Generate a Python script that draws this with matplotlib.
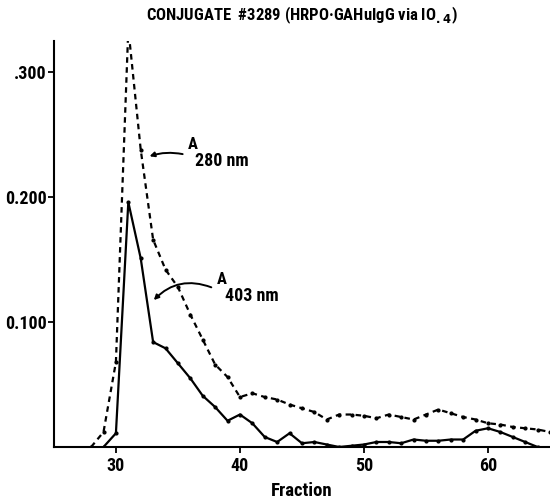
import matplotlib
matplotlib.use("Agg")
import matplotlib.pyplot as plt

plt.rcParams["font.family"] = ["Roboto Condensed", "Roboto", "DejaVu Sans"]
plt.rcParams["font.weight"] = "bold"

# absorbance at 280 nm (dashed)
frac_280 = [28, 29, 30, 31, 32, 33, 34, 35, 36, 37, 38, 39, 40, 41, 42, 43, 44,
            45, 46, 47, 48, 49, 50, 51, 52, 53, 54, 55, 56, 57, 58, 59, 60,
            61, 62, 63, 64, 65]
a280 = [0.0, 0.012, 0.068, 0.335, 0.238, 0.166, 0.142, 0.128, 0.106, 0.086, 0.066,
        0.056, 0.040, 0.043, 0.040, 0.038, 0.034, 0.031, 0.028, 0.022, 0.026,
        0.026, 0.025, 0.023, 0.026, 0.024, 0.022, 0.026, 0.030, 0.027, 0.024,
        0.022, 0.019, 0.018, 0.016, 0.015, 0.014, 0.012]

# absorbance at 403 nm (solid)
frac_403 = [29, 30, 31, 32, 33, 34, 35, 36, 37, 38, 39, 40, 41, 42, 43, 44, 45,
            46, 47, 48, 49, 50, 51, 52, 53, 54, 55, 56, 57, 58, 59, 60, 61,
            62, 63, 64]
a403 = [0.0, 0.011, 0.196, 0.151, 0.084, 0.079, 0.067, 0.055, 0.041, 0.032,
        0.021, 0.026, 0.019, 0.008, 0.004, 0.011, 0.003, 0.004, 0.002, 0.0,
        0.001, 0.002, 0.004, 0.004, 0.003, 0.006, 0.005, 0.005, 0.006, 0.006,
        0.013, 0.015, 0.012, 0.008, 0.004, 0.0]

ytick_vals = [0.1, 0.2, 0.3]
ytick_labels = ["0.100", "0.200", ".300"]
xtick_vals = [30, 40, 50, 60]

fig = plt.figure(figsize=(5.5, 5.0), dpi=100)
ax = fig.add_axes([0.098, 0.106, 0.902, 0.812])

ax.plot(frac_280, a280, color="black", linestyle=(0, (2.5, 2)), linewidth=1.6,
        marker="o", markersize=2)
ax.plot(frac_403, a403, color="black", linestyle="-", linewidth=1.6,
        marker="o", markersize=2)

ax.set_xlim(25, 65)
ax.set_ylim(0, 0.325)
ax.set_xticks(xtick_vals)
ax.set_yticks(ytick_vals)
ax.set_yticklabels(ytick_labels)
ax.tick_params(direction="out", length=4, width=1.3, labelsize=13, pad=1)
ax.tick_params(axis="x", pad=3)
for lab in ax.get_xticklabels() + ax.get_yticklabels():
    lab.set_fontweight("bold")

ax.spines["top"].set_visible(False)
ax.spines["right"].set_visible(False)
ax.spines["left"].set_linewidth(1.5)
ax.spines["bottom"].set_linewidth(1.5)

ax.set_xlabel("Fraction", fontsize=13.5, fontweight="bold", labelpad=5)
ax.set_title("CONJUGATE  #3289 (HRPO\u00b7GAHuIgG via IO$_{.4}$)",
             fontsize=12, fontweight="bold", pad=15)

# labels with arrows
ax.text(35.8, 0.236, "A", fontsize=12, fontweight="bold", ha="left", va="bottom")
ax.text(36.4, 0.222, "280 nm", fontsize=13, fontweight="bold", ha="left", va="bottom")
ax.annotate("", xy=(32.5, 0.232), xytext=(35.6, 0.234),
            arrowprops=dict(arrowstyle="-|>", color="black", lw=1.4,
                            mutation_scale=7,
                            connectionstyle="arc3,rad=0.15"))

ax.text(38.1, 0.128, "A", fontsize=12, fontweight="bold", ha="left", va="bottom")
ax.text(38.8, 0.114, "403 nm", fontsize=13, fontweight="bold", ha="left", va="bottom")
ax.annotate("", xy=(32.9, 0.116), xytext=(37.9, 0.127),
            arrowprops=dict(arrowstyle="-|>", color="black", lw=1.4,
                            mutation_scale=7,
                            connectionstyle="arc3,rad=0.35"))

fig.savefig("out.png", dpi=100)
